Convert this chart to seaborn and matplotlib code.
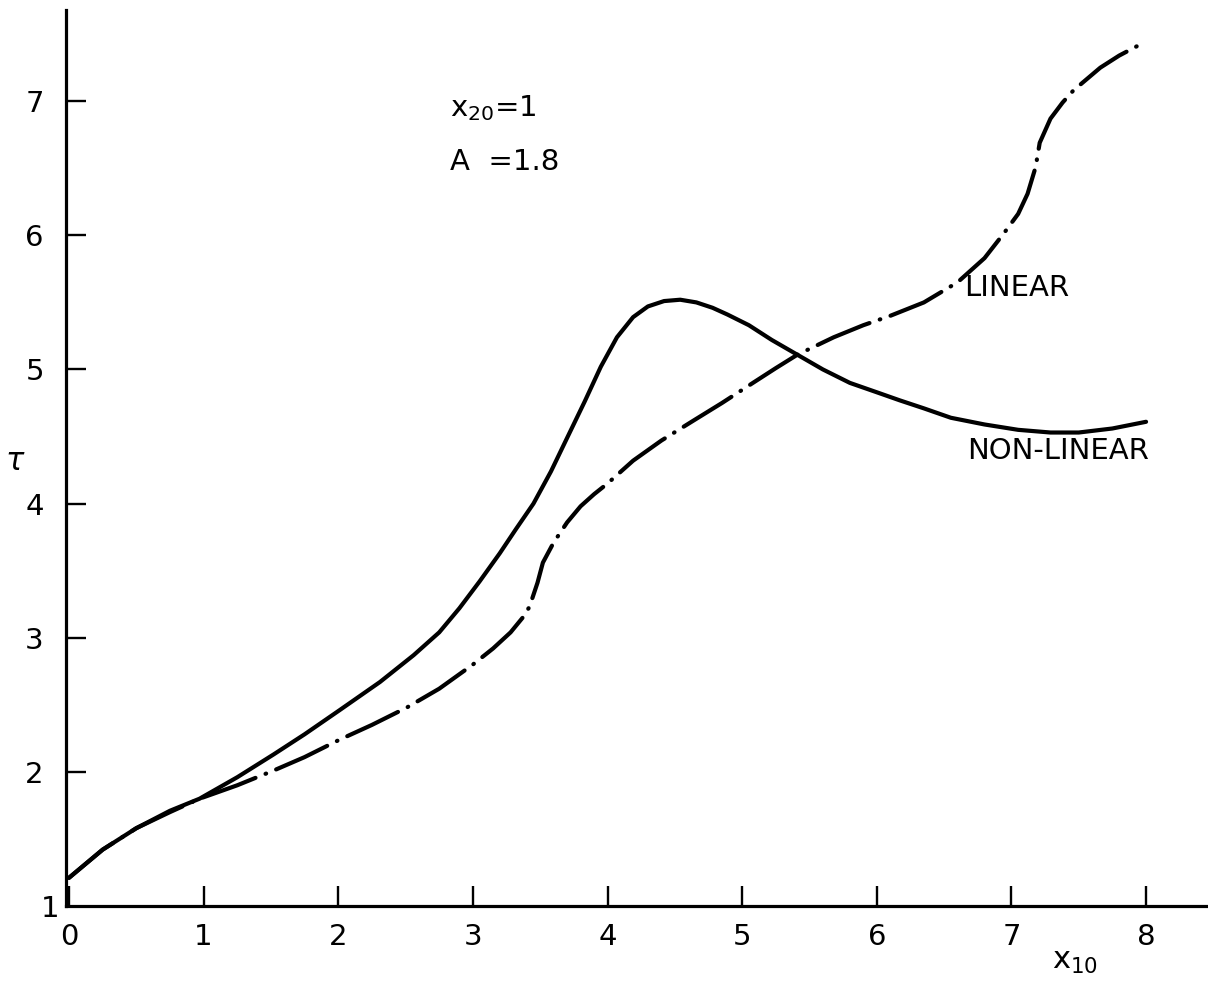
import matplotlib
matplotlib.use("Agg")
import matplotlib.pyplot as plt
import seaborn as sns
import pandas as pd

# Non-linear (solid) curve
x_nonlinear = [0.0, 0.25, 0.5, 0.75, 0.97, 1.25, 1.52, 1.75, 2.01, 2.31, 2.56, 2.75, 2.90, 3.05,
               3.20, 3.32, 3.45, 3.58, 3.70, 3.83, 3.95, 4.07, 4.19, 4.30, 4.42, 4.54, 4.66,
               4.78, 4.89, 5.05, 5.22, 5.41, 5.60, 5.80, 6.00, 6.17, 6.35, 6.55, 6.80, 7.05,
               7.29, 7.50, 7.75, 8.0]
tau_nonlinear = [1.21, 1.42, 1.58, 1.71, 1.80, 1.96, 2.13, 2.28, 2.46, 2.67, 2.87, 3.04, 3.22, 3.42,
                 3.63, 3.81, 4.00, 4.24, 4.49, 4.76, 5.02, 5.24, 5.39, 5.47, 5.51, 5.52, 5.50,
                 5.46, 5.41, 5.33, 5.22, 5.11, 5.00, 4.90, 4.83, 4.77, 4.71, 4.64, 4.59, 4.55,
                 4.53, 4.53, 4.56, 4.61]

# Linear (dash-dot) curve
x_linear = [0.0, 0.25, 0.5, 0.75, 0.97, 1.25, 1.52, 1.75, 2.01, 2.25, 2.51, 2.75, 3.0, 3.15, 3.28,
            3.37, 3.42, 3.48, 3.52, 3.60, 3.70, 3.80, 3.90, 4.0, 4.19, 4.40, 4.64, 4.85, 5.08, 5.25,
            5.41, 5.68, 5.90, 6.10, 6.35, 6.60, 6.80, 6.94, 7.05, 7.12, 7.18, 7.21, 7.29, 7.38,
            7.46, 7.66, 7.80, 7.97]
tau_linear = [1.21, 1.42, 1.58, 1.70, 1.80, 1.90, 2.01, 2.11, 2.24, 2.35, 2.48, 2.62, 2.80, 2.92, 3.04,
              3.15, 3.23, 3.41, 3.56, 3.71, 3.86, 3.98, 4.07, 4.15, 4.32, 4.47, 4.62, 4.75, 4.90, 5.01,
              5.11, 5.24, 5.33, 5.40, 5.50, 5.65, 5.83, 6.01, 6.16, 6.31, 6.51, 6.69, 6.87, 6.99,
              7.08, 7.25, 7.34, 7.43]

x_ticks = [0, 1, 2, 3, 4, 5, 6, 7, 8]
x_ticklabels = ["0", "1", "2", "3", "4", "5", "6", "7", "8"]
y_ticks = [2, 3, 4, 5, 6, 7]
y_ticklabels = ["2", "3", "4", "5", "6", "7"]

sns.set_theme(style="ticks")
plt.rcParams['font.family'] = ['DejaVu Sans']
plt.rcParams['text.color'] = 'black'

fig = plt.figure(figsize=(12.08, 9.81), dpi=100)
ax = fig.add_axes([66 / 1208, 75 / 981, 1142 / 1208, 896 / 981])

df_nl = pd.DataFrame({"x": x_nonlinear, "tau": tau_nonlinear})
df_l = pd.DataFrame({"x": x_linear, "tau": tau_linear})

sns.lineplot(data=df_nl, x="x", y="tau", ax=ax, color="black", linewidth=3, sort=False)
ax.lines[-1].set_solid_joinstyle("round")
sns.lineplot(data=df_l, x="x", y="tau", ax=ax, color="black", linewidth=3, sort=False)
ln = ax.lines[-1]
ln.set_dashes([13.5, 2.6, 0.15, 2.6])
ln.set_dash_capstyle("round")
ln.set_dash_joinstyle("round")

ax.set_xlim(-0.022, 8.46)
ax.set_ylim(1.0, 7.68)
ax.spines["top"].set_visible(False)
ax.spines["right"].set_visible(False)
for s in ["left", "bottom"]:
    ax.spines[s].set_linewidth(2.3)
    ax.spines[s].set_color("black")

ax.set_xticks(x_ticks)
ax.set_xticklabels(x_ticklabels)
ax.set_yticks(y_ticks)
ax.set_yticklabels(y_ticklabels)
ax.tick_params(axis="both", direction="in", length=14.5, width=1.7, colors="black",
               labelsize=21, pad=12, labelcolor="black")
ax.tick_params(axis="y", pad=16)

ax.set_xlabel("")
ax.set_ylabel("")
# lone "1" label at bottom of y axis
ax.text(-0.14, 0.98, "1", fontsize=21, ha="center", va="center", clip_on=False, color="black")

fig.text(15 / 1208, 1 - 462 / 981, r"$\tau$", fontsize=22, ha="center", va="center", color="black")
fig.text(1075 / 1208, 1 - 962 / 981, r"x$_{10}$", fontsize=22, ha="center", va="center", color="black")

ax.text(2.83, 6.95, r"x$_{20}$=1", fontsize=21, ha="left", va="center", color="black")
ax.text(2.83, 6.55, "A  =1.8", fontsize=21, ha="left", va="center", color="black")
ax.text(6.65, 5.61, "LINEAR", fontsize=21, ha="left", va="center", color="black")
ax.text(6.67, 4.39, "NON-LINEAR", fontsize=21, ha="left", va="center", color="black")

fig.savefig("out.png", dpi=100, facecolor="white")
